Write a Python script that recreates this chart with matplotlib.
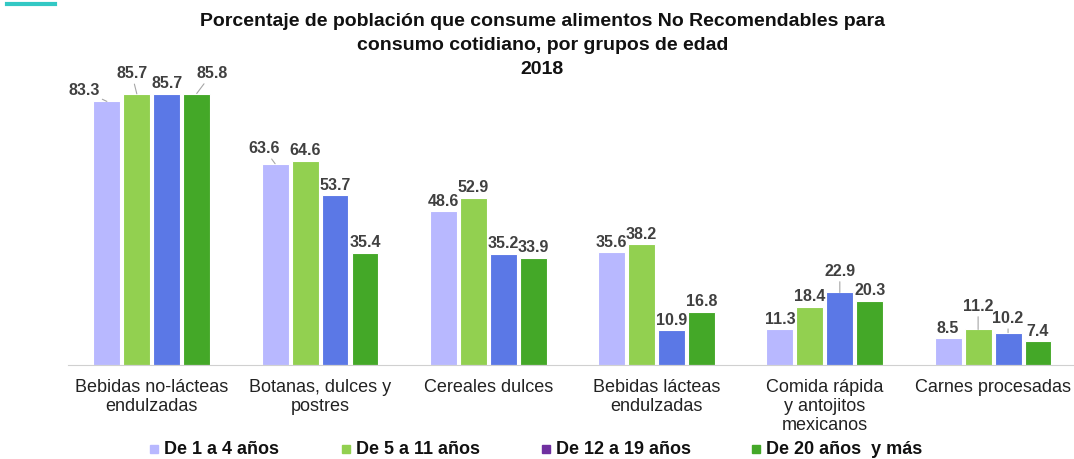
import numpy as np
import matplotlib
matplotlib.use('Agg')
import matplotlib.pyplot as plt
from matplotlib.lines import Line2D
from matplotlib.patches import Rectangle

plt.rcParams['font.family'] = ['Liberation Sans', 'DejaVu Sans']

# Data
categories = ['Bebidas no-lácteas\nendulzadas', 'Botanas, dulces y\npostres', 'Cereales dulces',
              'Bebidas lácteas\nendulzadas', 'Comida rápida\ny antojitos\nmexicanos', 'Carnes procesadas']
series_names = ['De 1 a 4 años', 'De 5 a 11 años', 'De 12 a 19 años', 'De 20 años  y más']
age_1_4 = [83.3, 63.6, 48.6, 35.6, 11.3, 8.5]
age_5_11 = [85.7, 64.6, 52.9, 38.2, 18.4, 11.2]
age_12_19 = [85.7, 53.7, 35.2, 10.9, 22.9, 10.2]
age_20_plus = [85.8, 35.4, 33.9, 16.8, 20.3, 7.4]

bar_colors = ['#B8B8FF', '#92D050', '#5B78E6', '#44A828']
legend_colors = ['#B8B8FF', '#92D050', '#7030A0', '#44A828']

# label nudges (pixels) for labels moved off their bars, (group, series): (dx, dy)
nudges = {(0, 0): (-23, 1), (0, 1): (-5, 10), (0, 3): (15, 10),
          (1, 0): (-11, 5), (4, 2): (0, 11), (5, 1): (0, 13), (5, 2): (0, 4)}

W, H = 1074, 459
fig = plt.figure(figsize=(W / 100, H / 100), dpi=100)
ax = fig.add_axes([0.063, 0.205, 0.94, 0.665])

x = np.arange(len(categories))
width = 0.16
pitch = 0.178
all_series = [age_1_4, age_5_11, age_12_19, age_20_plus]
for i, (vals, col) in enumerate(zip(all_series, bar_colors)):
    pos = x + (i - 1.5) * pitch
    ax.bar(pos, vals, width, color=col, edgecolor='white', linewidth=0.8, zorder=2)
    for g, (p, v) in enumerate(zip(pos, vals)):
        dx, dy = nudges.get((g, i), (0, 0))
        arrow = None
        if (g, i) in nudges:
            arrow = dict(arrowstyle='-', color='#A6A6A6', lw=0.8, shrinkA=0, shrinkB=0)
        ax.annotate(f'{v:.1f}', xy=(p, v), xytext=(dx, 10 + dy),
                    textcoords='offset pixels', ha='center', va='center',
                    fontsize=11.5, fontweight='bold', color='#404040',
                    arrowprops=arrow)

ax.set_xlim(-0.5, 5.5)
ax.set_ylim(0, 96.5)
ax.set_yticks([])
ax.set_xticks(x)
ax.set_xticklabels(categories, fontsize=13, color='#222222', va='top', linespacing=1.17)
ax.tick_params(axis='x', length=0, pad=10)
for s in ['top', 'right', 'left']:
    ax.spines[s].set_visible(False)
ax.spines['bottom'].set_color('#D0D0D0')

title_lines = ['Porcentaje de población que consume alimentos No Recomendables para',
               'consumo cotidiano, por grupos de edad', '2018']
for k, line in enumerate(title_lines):
    fig.text(0.505, 1 - (26 + 24 * k) / H, line, ha='center', va='baseline',
             fontsize=14, fontweight='bold', color='#111111')

# teal accent line
fig.add_artist(Line2D([7 / W, 55 / W], [1 - 4 / H, 1 - 4 / H], color='#33C8C4', linewidth=3))

# legend, laid out like the original
legend_x = [150, 342, 542, 752]
for lx, name, col in zip(legend_x, series_names, legend_colors):
    fig.add_artist(Rectangle((lx / W, 1 - 453 / H), 8 / W, 8 / H, color=col,
                             transform=fig.transFigure))
    fig.text((lx + 14) / W, 1 - 449 / H, name, ha='left', va='center',
             fontsize=13, fontweight='bold', color='#111111')

fig.savefig('out.png', dpi=100)
